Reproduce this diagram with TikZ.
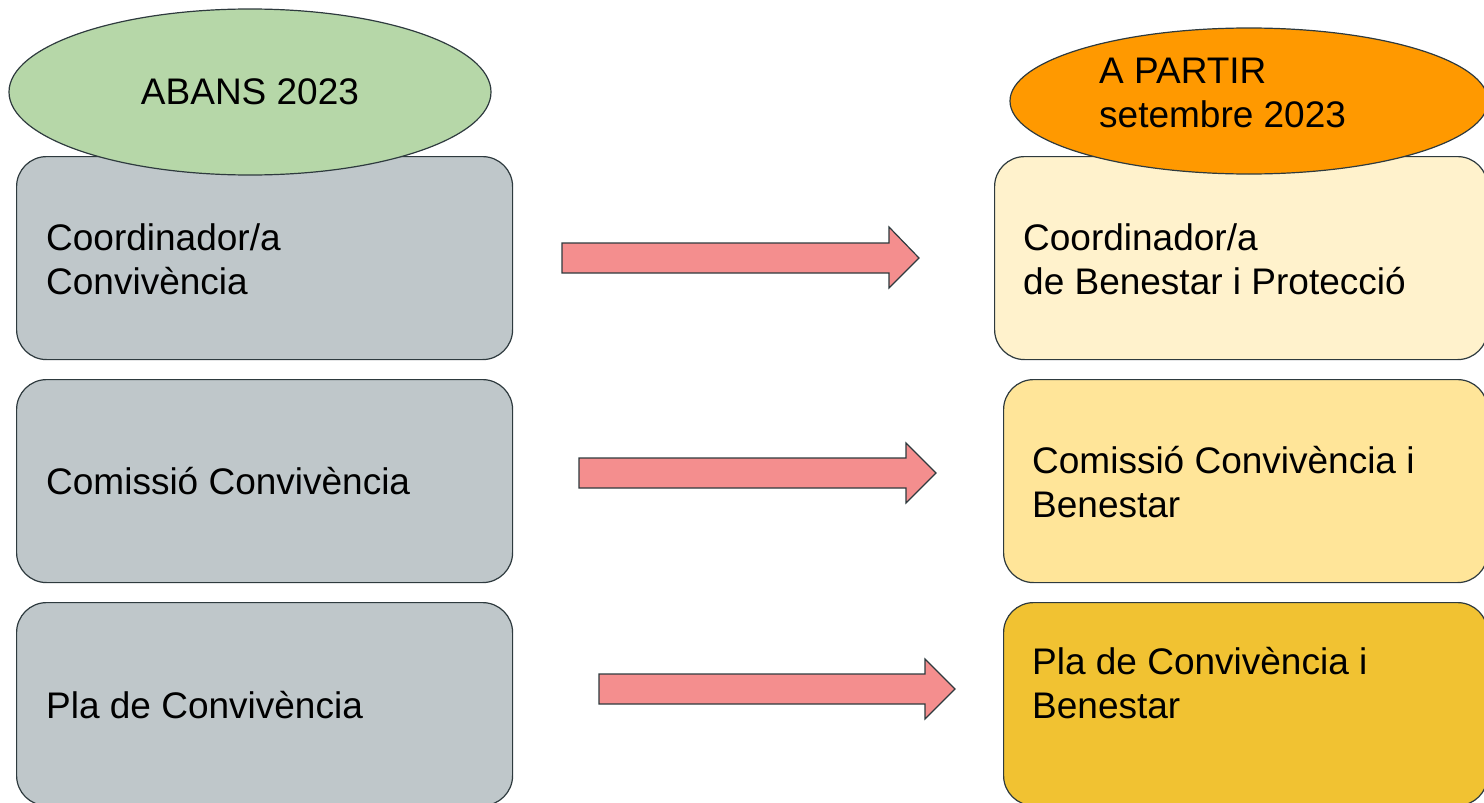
\documentclass[tikz,border=0pt]{standalone}
\usepackage{fontspec}
\setmainfont{Liberation Sans}
\usetikzlibrary{shapes.geometric}
\definecolor{boxgray}{HTML}{BFC7CA}
\definecolor{ellgreen}{HTML}{B6D7A8}
\definecolor{ellorange}{HTML}{FF9900}
\definecolor{ylight}{HTML}{FFF2CC}
\definecolor{ymid}{HTML}{FFE599}
\definecolor{ydark}{HTML}{F1C232}
\definecolor{arrpink}{HTML}{F48E8E}
\definecolor{edge}{HTML}{2E3A3E}
\begin{document}
\begin{tikzpicture}[x=1pt,y=-1pt,
  box/.style={draw=edge,line width=1.2pt,rounded corners=30pt,minimum width=#1,anchor=north west,minimum height=203pt,inner sep=0pt},
  ell/.style={draw=edge,line width=1.2pt,ellipse,inner sep=0pt},
  txt/.style={inner sep=0pt,align=left,anchor=west,font=\fontsize{37}{44.4}\selectfont},
  blockarr/.style={draw=edge,line width=1.2pt,fill=arrpink,line join=miter}
]
\useasboundingbox (0,0) rectangle (1484,803);
\clip (0,0) rectangle (1484,803);
% left boxes
\node[box=496pt,fill=boxgray] (l1) at (16,156) {};
\node[box=496pt,fill=boxgray] (l2) at (16,379) {};
\node[box=496pt,fill=boxgray] (l3) at (16,602) {};
% right boxes
\node[box=493pt,fill=ylight] (r1) at (994,156) {};
\node[box=484pt,fill=ymid] (r2) at (1003,379) {};
\node[box=484pt,fill=ydark] (r3) at (1003,602) {};
% ellipses
\node[ell,fill=ellgreen,minimum width=482pt,minimum height=166pt] (e1) at (250,92) {};
\node[ell,fill=ellorange,minimum width=478pt,minimum height=146pt] (e2) at (1249,101) {};
% texts
\node[txt,anchor=center] (te1) at (e1.center) {ABANS 2023};
\node[txt] (te2) at (1099,93) {A PARTIR\\setembre 2023};
\node[txt] (tl1) at (46,259) {Coordinador/a\\Convivència};
\node[txt] (tl2) at (46,481) {Comissió Convivència};
\node[txt] (tl3) at (46,705) {Pla de Convivència};
\node[txt] (tr1) at (1023,259) {Coordinador/a\\de Benestar i Protecció};
\node[txt] (tr2) at (1032,482) {Comissió Convivència i\\Benestar};
\node[txt] (tr3) at (1032,683) {Pla de Convivència i\\Benestar};
% block arrows
\draw[blockarr] (562,243) -- (889,243) -- (889,227) -- (919,258) -- (889,288) -- (889,273) -- (562,273) -- cycle;
\draw[blockarr] (579,458) -- (906,458) -- (906,443) -- (936,473) -- (906,503) -- (906,488) -- (579,488) -- cycle;
\draw[blockarr] (599,674) -- (925,674) -- (925,659) -- (955,689) -- (925,719) -- (925,704) -- (599,704) -- cycle;
\end{tikzpicture}
\end{document}
